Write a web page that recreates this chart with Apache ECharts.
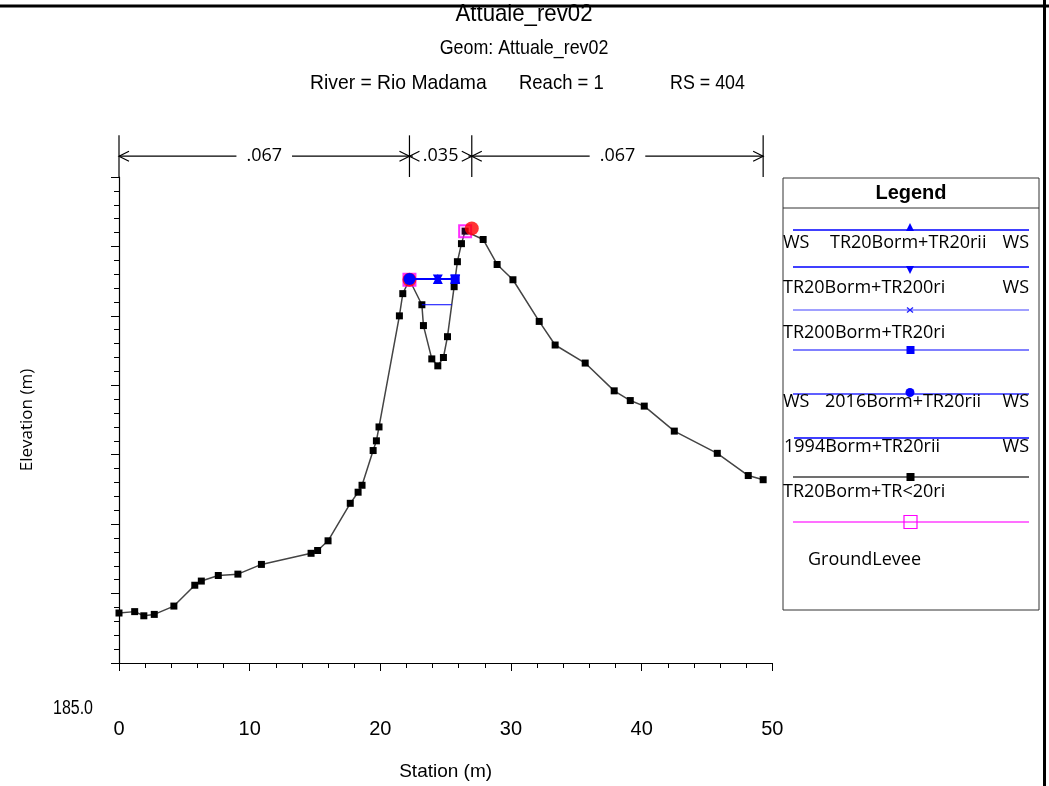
<!DOCTYPE html>
<html>
<head>
<meta charset="utf-8">
<script src="https://cdn.jsdelivr.net/npm/echarts@6/dist/echarts.min.js"></script>
<style>
html,body{margin:0;padding:0;background:#fff;}
#chart{width:1049px;height:786px;}
</style>
</head>
<body>
<div id="chart"></div>
<script>
// ---- data ----
const groundStation = [0.0,1.2,1.9,2.7,4.2,5.8,6.3,7.6,9.1,10.9,14.7,15.2,16.0,17.7,18.3,18.6,19.45,19.7,19.9,21.46,21.72,22.23,23.18,23.30,23.94,24.40,24.83,25.14,25.65,25.90,26.21,26.49,27.87,28.94,30.15,32.16,33.38,35.68,37.90,39.13,40.20,42.50,45.79,48.16,49.30];
const groundElev = [185.36,185.37,185.34,185.35,185.41,185.56,185.59,185.63,185.64,185.71,185.79,185.81,185.88,186.15,186.23,186.28,186.53,186.60,186.70,187.50,187.66,187.76,187.58,187.43,187.19,187.14,187.20,187.35,187.71,187.89,188.02,188.11,188.05,187.87,187.76,187.46,187.29,187.16,186.96,186.89,186.85,186.67,186.51,186.35,186.32];
const bankStation = [22.23, 27.0];
const bankElev = [187.76, 188.13];
const leveeStation = [22.23, 26.49];
const leveeElev = [187.76, 188.11];
const wsUpperStation = [22.23, 24.40, 25.73];
const wsUpperElev = 187.765;
const wsLowerStation = [23.18, 25.47];
const wsLowerElev = 187.58;
const manningBounds = [0, 22.23, 27.0, 49.3];
const manningValues = ['.067', '.035', '.067'];
const manningElev = [188.5, 188.65, 188.8];
const yMinLabel = '185.0';

const SANS = '"Liberation Sans",Arial,sans-serif';
const OPEN = '"Open Sans","Noto Sans",sans-serif';

function pts(st, el) { return st.map((s, i) => [s, Array.isArray(el) ? el[i] : el]); }
function marked(st, el, showIdx) {
  return st.map((s, i) => showIdx.indexOf(i) >= 0 ? [s, el] : {value: [s, el], symbol: 'none'});
}

const chart = echarts.init(document.getElementById('chart'), null, {renderer: 'canvas'});

const triDown = 'path://M0,0 L10,0 L5,9 Z';
const xMark = 'path://M0,0 L2,0 L5,3 L8,0 L10,0 L6,4 L10,8 L8,8 L5,5 L2,8 L0,8 L4,4 Z';

// legend drawing helpers
const LX0 = 793, LX1 = 1029;
function lline(y, color, w, x0) {
  return {type: 'line', shape: {x1: x0 || LX0, y1: y, x2: LX1, y2: y}, style: {stroke: color, lineWidth: w || 1.5}, z: 10};
}
function ltext(x, y, t, align) {
  return {type: 'text', x: x, y: y, style: {text: t, font: '18px ' + OPEN, fill: '#000', align: align || 'left', verticalAlign: 'middle'}, z: 11};
}
function ntext(x, y, t, size, sx, align) {
  return {type: 'text', x: x, y: y, scaleX: sx, style: {text: t, font: size + 'px ' + SANS, fill: '#000', align: align || 'center', verticalAlign: 'middle'}};
}

const legendGraphics = [
  {type: 'rect', shape: {x: 783, y: 178, width: 256, height: 432}, style: {fill: '#fff', stroke: '#333', lineWidth: 1}, z: 5},
  {type: 'line', shape: {x1: 783, y1: 208, x2: 1039, y2: 208}, style: {stroke: '#333', lineWidth: 1}, z: 6},
  {type: 'text', x: 911, y: 193, style: {text: 'Legend', font: 'bold 20px ' + SANS, fill: '#000', align: 'center', verticalAlign: 'middle'}, z: 11},
  // 1
  lline(230, '#0000ff', 1.5),
  {type: 'polygon', shape: {points: [[906, 231], [914, 231], [910, 223]]}, style: {fill: '#0000ff'}, z: 11},
  ltext(783, 243, 'WS'), ltext(830, 243, 'TR20Borm+TR20rii'), ltext(1029, 243, 'WS', 'right'),
  // 2
  lline(267, '#0000ff', 1.5),
  {type: 'polygon', shape: {points: [[906, 266], [914, 266], [910, 274]]}, style: {fill: '#0000ff'}, z: 11},
  ltext(783, 288, 'TR20Borm+TR200ri'), ltext(1029, 288, 'WS', 'right'),
  // 3
  lline(310, '#8080ff', 1.5),
  {type: 'line', shape: {x1: 907, y1: 307.5, x2: 913, y2: 312.5}, style: {stroke: '#2020ff', lineWidth: 1.3}, z: 11},
  {type: 'line', shape: {x1: 907, y1: 312.5, x2: 913, y2: 307.5}, style: {stroke: '#2020ff', lineWidth: 1.3}, z: 11},
  ltext(783, 333, 'TR200Borm+TR20ri'),
  // 4
  lline(350, '#8080ff', 2),
  {type: 'rect', shape: {x: 906.5, y: 346, width: 8, height: 8}, style: {fill: '#0000ff'}, z: 11},
  // 5
  lline(394, '#6060ff', 2),
  {type: 'circle', shape: {cx: 910, cy: 392.5, r: 4.5}, style: {fill: '#0000ff'}, z: 11},
  ltext(783, 402, 'WS'), ltext(825, 402, '2016Borm+TR20rii'), ltext(1029, 402, 'WS', 'right'),
  // 6
  lline(438, '#0000ff', 1.5, 794),
  ltext(784, 447, '1994Borm+TR20rii'), ltext(1029, 447, 'WS', 'right'),
  // 7
  lline(477, '#707070', 2),
  {type: 'rect', shape: {x: 906.5, y: 473, width: 8, height: 8}, style: {fill: '#000'}, z: 11},
  ltext(783, 492, 'TR20Borm+TR<20ri'),
  // 8
  lline(522, '#ff40ff', 1.5),
  {type: 'rect', shape: {x: 904, y: 515.5, width: 13, height: 13}, style: {fill: 'none', stroke: '#ff00ff', lineWidth: 1.2}, z: 11},
  ltext(808, 560, 'GroundLevee')
];

const option = {
  animation: false,
  backgroundColor: '#fff',
  grid: {left: 119, right: 276.7, top: 177, bottom: 122},
  xAxis: {
    type: 'value', min: 0, max: 50, interval: 10,
    axisLine: {show: true, onZero: false, lineStyle: {color: '#000', width: 1.2}},
    axisTick: {show: true, length: 8, lineStyle: {color: '#000', width: 1}},
    minorTick: {show: true, splitNumber: 5, length: 5, lineStyle: {color: '#000', width: 1}},
    splitLine: {show: false},
    axisLabel: {margin: 56, fontFamily: SANS, fontSize: 20, color: '#000'},
    name: 'Station (m)', nameLocation: 'middle', nameGap: 99,
    nameTextStyle: {fontFamily: SANS, fontSize: 19, color: '#000'}
  },
  yAxis: {
    type: 'value', min: 185, max: 188.5, interval: 0.5,
    axisLine: {show: true, onZero: false, lineStyle: {color: '#000', width: 1.2}},
    axisTick: {show: true, length: 8, lineStyle: {color: '#000', width: 1}},
    minorTick: {show: true, splitNumber: 5, length: 5, lineStyle: {color: '#000', width: 1}},
    splitLine: {show: false},
    axisLabel: {show: false},
    name: 'Elevation (m)', nameLocation: 'middle', nameGap: 83,
    nameTextStyle: {fontFamily: OPEN, fontSize: 17, color: '#000'}
  },
  series: [
    {
      name: 'Ground', type: 'line', data: pts(groundStation, groundElev),
      lineStyle: {color: '#444', width: 1.5}, symbol: 'rect', symbolSize: 7,
      itemStyle: {color: '#000'}, z: 2
    },
    {
      name: 'Levee', type: 'scatter', data: pts(leveeStation, leveeElev),
      symbol: 'rect', symbolSize: 12,
      itemStyle: {color: 'rgba(255,0,255,0.15)', borderColor: '#ff00ff', borderWidth: 2}, z: 3
    },
    {
      name: 'Bank Sta', type: 'scatter', data: pts(bankStation, bankElev),
      symbol: 'circle', symbolSize: 14, itemStyle: {color: '#ff0000'}, z: 4
    },
    {
      name: 'WS 1994Borm+TR20rii', type: 'line', data: pts(wsLowerStation, wsLowerElev),
      showSymbol: false, symbol: 'none', lineStyle: {color: '#0000ff', width: 1}, z: 5
    },
    {
      name: 'WS TR200Borm+TR20ri', type: 'line', data: marked(wsUpperStation, wsUpperElev, [2]),
      symbol: xMark, symbolSize: [10, 8], lineStyle: {color: '#8080ff', width: 2},
      itemStyle: {color: '#2020ff'}, z: 5
    },
    {
      name: 'WS sq', type: 'line', data: marked(wsUpperStation, wsUpperElev, [2]),
      symbol: 'rect', symbolSize: 9, lineStyle: {color: '#6060ff', width: 2},
      itemStyle: {color: '#0000ff'}, z: 6
    },
    {
      name: 'WS TR20Borm+TR20rii', type: 'line', data: marked(wsUpperStation, wsUpperElev, [1, 2]),
      symbol: 'triangle', symbolSize: 10, lineStyle: {color: '#0000ff', width: 1.5},
      itemStyle: {color: '#0000ff'}, z: 7
    },
    {
      name: 'WS TR20Borm+TR200ri', type: 'line', data: marked(wsUpperStation, wsUpperElev, [1, 2]),
      symbol: triDown, symbolSize: [10, 9], lineStyle: {color: '#0000ff', width: 1.5},
      itemStyle: {color: '#0000ff'}, z: 7
    },
    {
      name: 'WS 2016Borm+TR20rii', type: 'line', data: marked(wsUpperStation, wsUpperElev, [0]),
      symbol: 'circle', symbolSize: 12, lineStyle: {color: '#0000ff', width: 1.5},
      itemStyle: {color: '#0000ff'}, z: 8
    },
    {
      name: 'Manning n', type: 'custom', clip: false, z: 9,
      data: manningValues.map((v, i) => [manningBounds[i], manningBounds[i + 1], manningElev[1]]),
      encode: {x: [0, 1], y: 2},
      renderItem: function (params, api) {
        const i = params.dataIndex;
        const x0 = api.coord([api.value(0), manningElev[1]])[0];
        const x1 = api.coord([api.value(1), manningElev[1]])[0];
        const yM = api.coord([0, manningElev[1]])[1];
        const yB = api.coord([0, manningElev[0]])[1];
        const yT = api.coord([0, manningElev[2]])[1];
        const st = {stroke: '#000', lineWidth: 1.2, fill: 'none'};
        const ch = [
          {type: 'line', shape: {x1: x0, y1: yM, x2: x1, y2: yM}, style: st},
          {type: 'text', style: {text: manningValues[i], x: (x0 + x1) / 2, y: yM, align: 'center', verticalAlign: 'middle',
            font: '18px ' + OPEN, fill: '#000', backgroundColor: '#fff', padding: [2, 10]}},
          {type: 'polyline', shape: {points: [[x0 + 10, yM - 5], [x0, yM], [x0 + 10, yM + 5]]}, style: st},
          {type: 'polyline', shape: {points: [[x1 - 10, yM - 5], [x1, yM], [x1 - 10, yM + 5]]}, style: st},
          {type: 'line', shape: {x1: x0, y1: yT, x2: x0, y2: yB}, style: {stroke: '#000', lineWidth: 1.2}}
        ];
        if (i === manningValues.length - 1) {
          ch.push({type: 'line', shape: {x1: x1, y1: yT, x2: x1, y2: yB}, style: {stroke: '#000', lineWidth: 1.2}});
        }
        return {type: 'group', children: ch};
      }
    }
  ],
  graphic: [
    {type: 'rect', shape: {x: 0, y: 4.5, width: 1049, height: 3}, style: {fill: '#000'}},
    {type: 'rect', shape: {x: 1043, y: 0, width: 3, height: 786}, style: {fill: '#000'}},
    ntext(524, 14, 'Attuale_rev02', 24, 0.925),
    ntext(524, 48, 'Geom: Attuale_rev02', 21, 0.85),
    ntext(310, 83, 'River = Rio Madama', 21, 0.92, 'left'),
    ntext(519, 83, 'Reach = 1', 21, 0.88, 'left'),
    ntext(670, 83, 'RS = 404', 21, 0.85, 'left'),
    ntext(73, 708, yMinLabel, 20, 0.8)
  ].concat(legendGraphics)
};
chart.setOption(option);
</script>
</body>
</html>
